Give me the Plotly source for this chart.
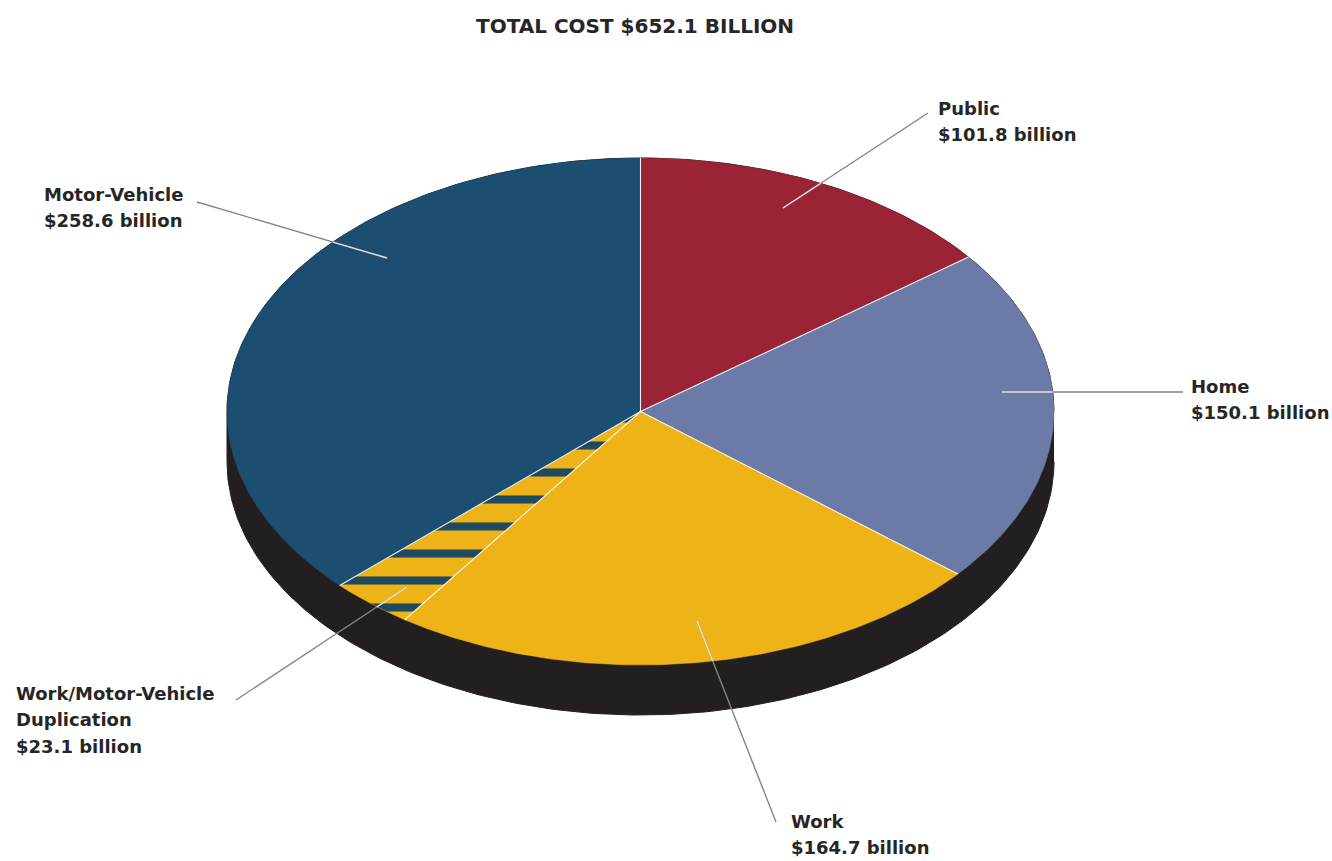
import math
import plotly.graph_objects as go

# ---------------- data ----------------
categories = ["Public", "Home", "Work", "Work/Motor-Vehicle Duplication", "Motor-Vehicle"]
values = [101.8, 150.1, 164.7, 23.1, 258.6]  # $ billion
colors = ["#9a2436", "#6b7aa6", "#eeb417", "#eeb417", "#1c4e72"]
total_title = "TOTAL COST $652.1 BILLION"
label_lines = {
    "Public": ["Public", "$101.8 billion"],
    "Home": ["Home", "$150.1 billion"],
    "Work": ["Work", "$164.7 billion"],
    "Work/Motor-Vehicle Duplication": ["Work/Motor-Vehicle", "Duplication", "$23.1 billion"],
    "Motor-Vehicle": ["Motor-Vehicle", "$258.6 billion"],
}

# ---------------- layout geometry ----------------
W, H = 1332, 861
CX, CY = 640.5, 411.5     # pie centre in pixels
RX, RY = 413.5, 253.5     # ellipse radii in pixels (unit circle is squashed by axis scaling)
DEPTH = 50 / RY           # thickness of the pie's side, in data units

def X(px):
    return (px - CX) / RX

def Y(py):
    return (CY - py) / RY

fig = go.Figure()

# side / shadow of the disc
n = 200
sx, sy = [], []
for i in range(n + 1):
    t = math.pi * i / n
    sx.append(math.cos(t)); sy.append(math.sin(t))
for i in range(n + 1):
    t = math.pi + math.pi * i / n
    sx.append(math.cos(t)); sy.append(math.sin(t) - DEPTH)
fig.add_trace(go.Scatter(x=sx, y=sy, fill="toself", fillcolor="#231f20",
                         line=dict(color="#231f20", width=1), mode="lines",
                         hoverinfo="skip", showlegend=False))

# slices (clockwise from 12 o'clock)
tot = sum(values)
start = 90.0
edges = []
for cat, v, col in zip(categories, values, colors):
    span = v / tot * 360.0
    a0, a1 = start, start - span
    edges.append(a0)
    steps = max(4, int(span * 2))
    xs, ys = [0.0], [0.0]
    for k in range(steps + 1):
        a = math.radians(a0 + (a1 - a0) * k / steps)
        xs.append(math.cos(a)); ys.append(math.sin(a))
    xs.append(0.0); ys.append(0.0)
    kw = {}
    if cat.startswith("Work/"):
        kw["fillpattern"] = dict(shape="-", fgcolor="#1f4a60", bgcolor="#eeb417",
                                 size=27, solidity=0.3, fillmode="replace")
    fig.add_trace(go.Scatter(x=xs, y=ys, fill="toself", fillcolor=col,
                             line=dict(color=col, width=0.5),
                             mode="lines", name=cat, hoverinfo="name+text",
                             text=f"${v} billion", showlegend=False, **kw))
    start = a1

# white radial separators between slices
for a in edges:
    r = math.radians(a)
    fig.add_trace(go.Scatter(x=[0, math.cos(r)], y=[0, math.sin(r)], mode="lines",
                             line=dict(color="rgba(255,255,255,0.9)", width=1.1),
                             hoverinfo="skip", showlegend=False))

# leader lines (pixel anchors of the labels)
leaders = {
    "Public": ((928, 113), (783, 208)),
    "Home": ((1183, 392), (1002, 392)),
    "Work": ((776, 822), (697, 621)),
    "Work/Motor-Vehicle Duplication": ((236, 700), (407, 587)),
    "Motor-Vehicle": ((197, 202), (387, 258)),
}
for cat, (p0, p1) in leaders.items():
    ax, ay = X(p0[0]), Y(p0[1])
    bx, by = X(p1[0]), Y(p1[1])
    fig.add_trace(go.Scatter(x=[ax, bx], y=[ay, by], mode="lines",
                             line=dict(color="#858585", width=1.4),
                             hoverinfo="skip", showlegend=False))
    # part inside the top face is drawn light
    dx, dy = bx - ax, by - ay
    a = dx * dx + dy * dy
    b = 2 * (ax * dx + ay * dy)
    c = ax * ax + ay * ay - 1
    disc = b * b - 4 * a * c
    if disc > 0:
        t = (-b - math.sqrt(disc)) / (2 * a)
        t = min(max(t, 0), 1)
        fig.add_trace(go.Scatter(x=[ax + t * dx, bx], y=[ay + t * dy, by], mode="lines",
                                 line=dict(color="rgba(255,255,255,0.75)", width=1.4),
                                 hoverinfo="skip", showlegend=False))

# labels
label_pos = {
    "Public": (936, 108),
    "Home": (1189, 386),
    "Work": (789, 821),
    "Work/Motor-Vehicle Duplication": (14, 693),
    "Motor-Vehicle": (42, 194),
}
FONT = "DejaVu Sans"
LINE_H = 26.5
for cat, (lx, ly) in label_pos.items():
    for i, txt in enumerate(label_lines[cat]):
        fig.add_annotation(x=X(lx), y=Y(ly + i * LINE_H), xref="x", yref="y",
                           text=f"<b>{txt}</b>", showarrow=False,
                           xanchor="left", yanchor="middle",
                           font=dict(family=FONT, size=18, color="#262626"))

fig.add_annotation(x=X(635), y=Y(26), xref="x", yref="y", text=f"<b>{total_title}</b>",
                   showarrow=False, xanchor="center", yanchor="middle",
                   font=dict(family=FONT, size=20, color="#262626"))

fig.update_layout(
    width=W, height=H, margin=dict(l=0, r=0, t=0, b=0),
    paper_bgcolor="white", plot_bgcolor="white",
    xaxis=dict(range=[X(0), X(W)], visible=False, fixedrange=True),
    yaxis=dict(range=[Y(H), Y(0)], visible=False, fixedrange=True),
    showlegend=False,
)

fig.write_html("out.html")
